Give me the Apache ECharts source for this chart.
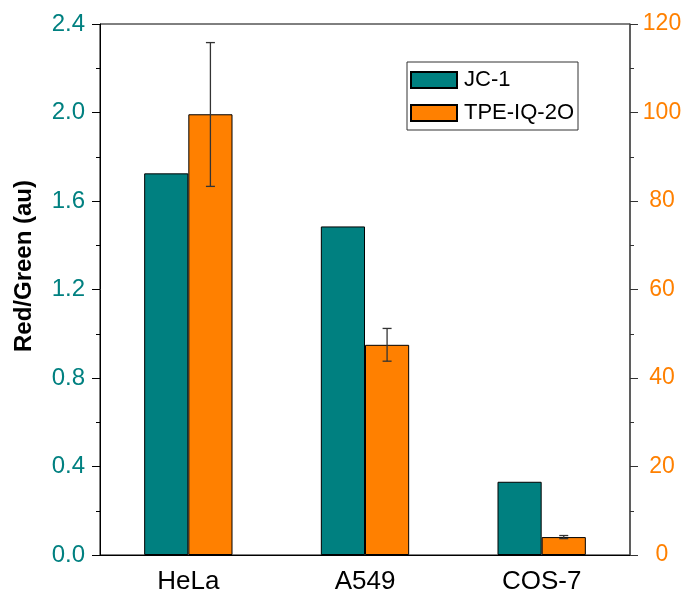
<!DOCTYPE html>
<html><head><meta charset="utf-8">
<script src="https://cdn.jsdelivr.net/npm/echarts@6/dist/echarts.min.js"></script>
<style>html,body{margin:0;padding:0;background:#fff}#c{width:685px;height:599px}</style>
</head><body><div id="c"></div>
<script>
const categories = ['HeLa', 'A549', 'COS-7'];
const jc1 = [1.725, 1.485, 0.331];
const tpe = [99.6, 47.5, 4.05];
const tpeErrLow = [83.3, 43.8, 3.7];
const tpeErrHigh = [115.8, 51.2, 4.4];
const leftTicks = {min: 0, max: 2.4, interval: 0.4};
const rightTicks = {min: 0, max: 120, interval: 20};

const teal = '#008080', orange = '#FF8000';
const font = 'Liberation Sans, Arial, sans-serif';
const chart = echarts.init(document.getElementById('c'));
chart.setOption({
  animation: false,
  grid: {left: 100, right: 55, top: 24, bottom: 44, show: true, borderColor: '#000', borderWidth: 1},
  legend: {
    data: ['JC-1', 'TPE-IQ-2O'], orient: 'vertical', left: 407, top: 62,
    icon: 'rect',
    padding: [7, 4, 6, 3], itemWidth: 46, itemHeight: 16, itemGap: 11,
    borderColor: '#333', borderWidth: 1,
    textStyle: {fontFamily: font, fontSize: 22, lineHeight: 16, color: '#000', padding: [0, 0, 0, 2]}
  },
  xAxis: {
    type: 'category', data: categories, boundaryGap: true,
    axisLine: {lineStyle: {color: '#000', width: 1}},
    axisTick: {alignWithLabel: true, length: 6, lineStyle: {color: '#000'}},
    axisLabel: {fontFamily: font, fontSize: 26, color: '#000', margin: 14}
  },
  yAxis: [{
    type: 'value', ...leftTicks,
    axisLine: {show: true, lineStyle: {color: '#000', width: 1}},
    axisTick: {show: true, length: 8, lineStyle: {color: '#000'}},
    minorTick: {show: true, splitNumber: 2, length: 4, lineStyle: {color: '#000'}},
    splitLine: {show: false},
    axisLabel: {fontFamily: font, fontSize: 24, color: teal, margin: 15, formatter: v => v.toFixed(1)}
  }, {
    type: 'value', ...rightTicks, position: 'right',
    axisLine: {show: true, lineStyle: {color: '#555', width: 1.5}},
    axisTick: {show: true, length: 8, lineStyle: {color: '#333'}},
    minorTick: {show: true, splitNumber: 2, length: 4, lineStyle: {color: '#333'}},
    splitLine: {show: false},
    axisLabel: {fontFamily: font, fontSize: 23, color: orange, margin: 32, align: 'center'}
  }],
  graphic: [{
    type: 'text', left: 12, top: 180, rotation: Math.PI / 2,
    style: {text: 'Red/Green (au)', fontFamily: font, fontSize: 24, fontWeight: 'bold', fill: '#000'}
  }],
  series: [{
    name: 'JC-1', type: 'bar', yAxisIndex: 0, data: jc1,
    barCategoryGap: '50%', barGap: '0%',
    itemStyle: {color: teal, borderColor: '#000', borderWidth: 1}
  }, {
    name: 'TPE-IQ-2O', type: 'bar', yAxisIndex: 1, data: tpe,
    barCategoryGap: '50%', barGap: '0%',
    itemStyle: {color: orange, borderColor: '#000', borderWidth: 1}
  }, {
    type: 'custom', yAxisIndex: 1, z: 10,
    data: categories.map((c, i) => [i, tpeErrLow[i], tpeErrHigh[i]]),
    renderItem: function (params, api) {
      const i = api.value(0);
      const w = api.size([1, 0])[0];
      const lo = api.coord([i, api.value(1)]);
      const hi = api.coord([i, api.value(2)]);
      const x = lo[0] + w * 0.125;
      const cap = 4.5;
      const st = {stroke: '#333', lineWidth: 1.3};
      return {type: 'group', children: [
        {type: 'line', shape: {x1: x, y1: lo[1], x2: x, y2: hi[1]}, style: st},
        {type: 'line', shape: {x1: x - cap, y1: lo[1], x2: x + cap, y2: lo[1]}, style: st},
        {type: 'line', shape: {x1: x - cap, y1: hi[1], x2: x + cap, y2: hi[1]}, style: st}
      ]};
    }
  }]
});
</script></body></html>
